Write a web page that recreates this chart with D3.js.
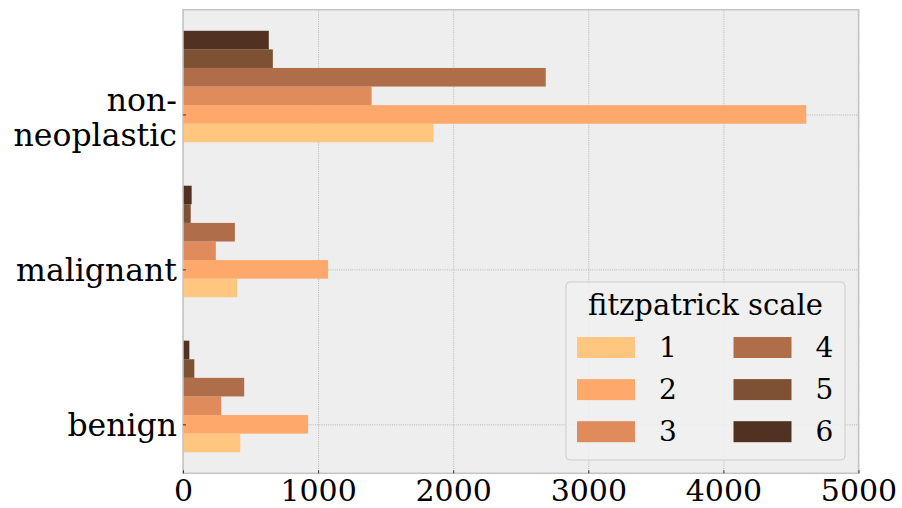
<!DOCTYPE html>
<html>
<head>
<meta charset="utf-8">
<script src="https://cdn.jsdelivr.net/npm/d3@7"></script>
<style>
  body { margin: 0; background: #fff; }
  text { font-family: "DejaVu Serif", serif; fill: #000; }
</style>
</head>
<body>
<div id="chart"></div>
<script>
var categories = ["benign", "malignant", "non-neoplastic"];
var scaleNames = ["1", "2", "3", "4", "5", "6"];
var s1 = [424, 400, 1855];
var s2 = [926, 1074, 4613];
var s3 = [283, 243, 1396];
var s4 = [453, 384, 2685];
var s5 = [84, 57, 665];
var s6 = [47, 64, 635];
var series = [s1, s2, s3, s4, s5, s6];
var colors = ["#ffc680", "#fea86b", "#e08b5b", "#af6e49", "#7e5034", "#503122"];
var xTicks = [0, 1000, 2000, 3000, 4000, 5000];

var width = 902, height = 508;
var plot = { left: 183, right: 858.5, top: 9.7, bottom: 473.3 };

var svg = d3.select("#chart").append("svg")
  .attr("width", width)
  .attr("height", height);

var x = d3.scaleLinear()
  .domain([0, 5000])
  .range([plot.left, plot.right]);

var y = d3.scaleLinear()
  .domain([-0.316, 2.676])
  .range([plot.bottom, plot.top]);

var barH = 0.12;

// background
svg.append("rect")
  .attr("x", plot.left)
  .attr("y", plot.top)
  .attr("width", plot.right - plot.left)
  .attr("height", plot.bottom - plot.top)
  .attr("fill", "#eeeeee");

// grid
svg.append("g")
  .attr("class", "grid")
  .attr("transform", "translate(0," + plot.bottom + ")")
  .call(d3.axisBottom(x).tickValues(xTicks).tickSize(-(plot.bottom - plot.top)).tickFormat(""))
  .call(function (g) { g.select(".domain").remove(); });

svg.append("g")
  .attr("class", "grid")
  .attr("transform", "translate(" + plot.left + ",0)")
  .call(d3.axisLeft(y).tickValues([0, 1, 2]).tickSize(-(plot.right - plot.left)).tickFormat(""))
  .call(function (g) { g.select(".domain").remove(); });

svg.selectAll(".grid line")
  .attr("stroke", "#b4b4b4")
  .attr("stroke-width", 1)
  .attr("stroke-dasharray", "1,1.2");

// bars
series.forEach(function (vals, i) {
  svg.selectAll(".bar" + i)
    .data(vals)
    .enter().append("rect")
    .attr("class", "bar" + i)
    .attr("x", x(0))
    .attr("y", function (d, j) { return y(j + (i - 1) * barH + barH / 2); })
    .attr("width", function (d) { return x(d) - x(0); })
    .attr("height", function (d, j) { return y(j + (i - 1) * barH - barH / 2) - y(j + (i - 1) * barH + barH / 2); })
    .attr("fill", colors[i]);
});

// frame
svg.append("rect")
  .attr("x", plot.left)
  .attr("y", plot.top)
  .attr("width", plot.right - plot.left)
  .attr("height", plot.bottom - plot.top)
  .attr("fill", "none")
  .attr("stroke", "#c4c4c4")
  .attr("stroke-width", 1.5);

// x axis
var xAxis = svg.append("g")
  .attr("transform", "translate(0," + plot.bottom + ")")
  .call(d3.axisBottom(x).tickValues(xTicks).tickSize(-3).tickFormat(d3.format("d")));
xAxis.select(".domain").remove();
xAxis.selectAll("line").attr("stroke", "#333");
xAxis.selectAll("text")
  .attr("dy", 0)
  .attr("y", 28)
  .style("font-family", "DejaVu Serif")
  .style("font-size", "30px");

// y axis
var yAxis = svg.append("g")
  .attr("transform", "translate(" + plot.left + ",0)")
  .call(d3.axisLeft(y).tickValues([0, 1, 2]).tickSize(-3).tickFormat(""));
yAxis.select(".domain").remove();
yAxis.selectAll("line").attr("stroke", "#333");

var labelX = plot.left - 6;
var labelSize = "31.5px";
categories.forEach(function (c, j) {
  var ty = y(j);
  if (c === "non-neoplastic") {
    svg.append("text").attr("x", labelX).attr("y", ty - 3)
      .attr("text-anchor", "end").style("font-size", labelSize).text("non-");
    svg.append("text").attr("x", labelX).attr("y", ty + 32)
      .attr("text-anchor", "end").style("font-size", labelSize).text("neoplastic");
  } else {
    svg.append("text").attr("x", labelX).attr("y", ty + 12)
      .attr("text-anchor", "end").style("font-size", labelSize).text(c);
  }
});

// legend
var lg = svg.append("g").attr("transform", "translate(566,282)");
lg.append("rect")
  .attr("width", 279)
  .attr("height", 178)
  .attr("rx", 4)
  .attr("fill", "#efefef")
  .attr("fill-opacity", 0.9)
  .attr("stroke", "#cccccc")
  .attr("stroke-width", 1);
lg.append("text")
  .attr("x", 139.5)
  .attr("y", 33)
  .attr("text-anchor", "middle")
  .style("font-size", "29px")
  .text("fitzpatrick scale");

var items = lg.selectAll(".item")
  .data(scaleNames)
  .enter().append("g")
  .attr("class", "item")
  .attr("transform", function (d, i) {
    return "translate(" + (i < 3 ? 11 : 167.5) + "," + (55 + (i % 3) * 42.1) + ")";
  });
items.append("rect")
  .attr("width", 58)
  .attr("height", 21)
  .attr("fill", function (d, i) { return colors[i]; });
items.append("text")
  .attr("x", 82)
  .attr("y", 20)
  .style("font-size", "28px")
  .text(function (d) { return d; });
</script>
</body>
</html>
